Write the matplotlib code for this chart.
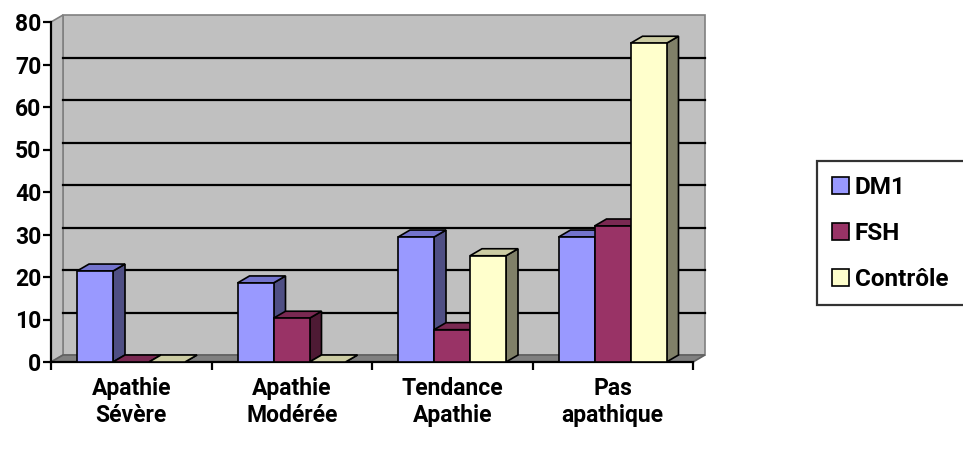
import numpy as np
import matplotlib.pyplot as plt
from matplotlib.patches import Polygon, Rectangle, Patch

categories = ["Apathie\nSévère", "Apathie\nModérée", "Tendance\nApathie", "Pas\napathique"]
series = ["DM1", "FSH", "Contrôle"]
dm1 = [21.4, 18.6, 29.4, 29.4]
fsh = [0, 10.3, 7.6, 32]
controle = [0, 0, 25, 75]
values = [dm1, fsh, controle]

# front / side / top shades for each series
front = ["#9999FF", "#993366", "#FFFFCC"]
side = ["#4F4F84", "#4E1A34", "#808068"]
top = ["#7373CC", "#7A2952", "#CCCCA3"]

plt.rcParams["font.family"] = ["Roboto", "DejaVu Sans"]
plt.rcParams["font.weight"] = "bold"

fig = plt.figure(figsize=(9.63, 4.5), dpi=100)
W, H = 963, 450
ax = fig.add_axes([51 / W, 88 / H, 642 / W, 340 / H])
ymax = 80
ax.set_xlim(0, 4)
ax.set_ylim(0, ymax)

# depth of the 3d effect, in data units
dx = 12 / 642 * 4
dy = 7 / 340 * ymax

wall = "#C0C0C0"
edge = "#808080"
ax.add_patch(Rectangle((dx, dy), 4, ymax, facecolor=wall, edgecolor=edge, lw=1.2, clip_on=False, zorder=0))
ax.add_patch(Polygon([(0, 0), (dx, dy), (dx, ymax + dy), (0, ymax)], closed=True,
                     facecolor=wall, edgecolor=edge, lw=1.2, clip_on=False, zorder=0))
ax.add_patch(Polygon([(0, 0), (4, 0), (4 + dx, dy), (dx, dy)], closed=True,
                     facecolor="#808080", edgecolor="#606060", lw=1.2, clip_on=False, zorder=0.5))
for v in range(10, ymax, 10):
    ax.plot([dx, 4 + dx], [v + dy, v + dy], color="black", lw=1.6, clip_on=False, zorder=0.6)

w = 36 / 642 * 4
start = 26 / 642 * 4
for j in range(len(categories)):
    for i, vals in enumerate(values):
        v = vals[j]
        x0 = j + start + i * w
        z = 2 + j * 3 + i
        ax.add_patch(Polygon([(x0 + w, 0), (x0 + w + dx, dy), (x0 + w + dx, v + dy), (x0 + w, v)],
                             closed=True, facecolor=side[i], edgecolor="black", lw=1.2,
                             clip_on=False, zorder=z))
        ax.add_patch(Polygon([(x0, v), (x0 + w, v), (x0 + w + dx, v + dy), (x0 + dx, v + dy)],
                             closed=True, facecolor=top[i], edgecolor="black", lw=1.2,
                             clip_on=False, zorder=z))
        if v > 0:
            ax.bar(x0, v, width=w, align="edge", color=front[i], edgecolor="black",
                   lw=1.2, zorder=z, clip_on=False)

for s in ["top", "right"]:
    ax.spines[s].set_visible(False)
for s in ["left", "bottom"]:
    ax.spines[s].set_linewidth(1.6)
    ax.spines[s].set_zorder(1)

fs = 16.5
ax.set_yticks(range(0, ymax + 1, 10))
ax.tick_params(axis="y", length=6, width=1.6, labelsize=fs, pad=1)
ax.set_xticks(range(5))
ax.set_xticklabels([])
ax.set_xticks(np.arange(len(categories)) + 0.5, minor=True)
ax.set_xticklabels(categories, minor=True, fontsize=fs, fontweight="bold", linespacing=1.2)
ax.tick_params(axis="x", which="major", length=6, width=1.6)
ax.tick_params(axis="x", which="minor", length=0, pad=11)
for lab in ax.get_yticklabels():
    lab.set_fontweight("bold")

# legend box runs off the right edge of the figure
handles = [Patch(facecolor=front[i], edgecolor="black", lw=1.2) for i in range(3)]
leg = fig.legend(handles, series, loc="upper left",
                 bbox_to_anchor=(817 / W, 1 - 161 / H, 160 / W, 0), mode="expand",
                 frameon=True, fancybox=False, edgecolor="black", fontsize=17.5,
                 handlelength=0.7, handleheight=0.7, handletextpad=0.25,
                 labelspacing=0.95, borderpad=0.6, borderaxespad=0)
leg.get_frame().set_linewidth(1.6)
for t in leg.get_texts():
    t.set_fontweight("bold")

fig.savefig("out.png", dpi=100)
